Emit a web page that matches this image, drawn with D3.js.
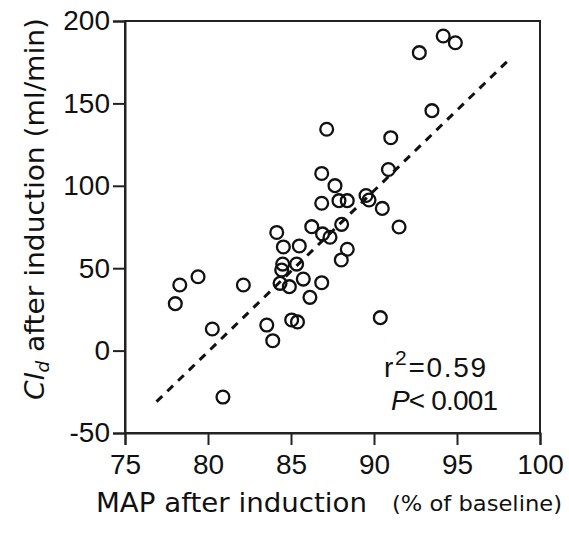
<!DOCTYPE html>
<html><head><meta charset="utf-8">
<script src="https://cdn.jsdelivr.net/npm/d3@7"></script>
<style>body{margin:0;background:#fff}</style>
</head><body>
<svg id="chart" width="569" height="536"></svg>
<script>
// Data (MAP % of baseline, Cl_d ml/min)
const mapValues = [94.17,94.90,92.73,93.49,87.15,91.01,86.85,90.87,87.65,86.85,87.89,88.39,89.52,89.70,90.50,91.51,88.05,86.25,84.14,86.90,87.35,84.54,85.50,88.39,88.03,84.50,85.34,84.44,84.34,84.90,85.74,86.85,86.14,83.54,85.04,85.39,83.90,90.38,82.13,79.40,78.30,78.03,80.26,80.90];
const clValues  = [190.9,186.8,180.8,145.6,134.3,129.2,107.5,109.9,100.1,89.4,91.0,91.0,94.1,91.4,86.3,75.0,76.6,75.2,71.7,70.8,68.8,62.9,63.5,61.5,55.0,52.5,52.5,48.9,40.8,38.8,43.4,41.2,32.3,15.5,18.6,17.4,6.0,20.0,39.8,44.8,39.8,28.5,13.1,-28.2];
const fitX = [76.9, 98.05];
const fitY = [-31.0, 175.7];
const xTicks = [75,80,85,90,95,100];
const yTicks = [-50,0,50,100,150,200];

const svg = d3.select('#chart');
const x = d3.scaleLinear().domain([75,100]).range([125,540]);
const y = d3.scaleLinear().domain([-50,200]).range([433,21]);
const tickFont = "'Liberation Sans', Arial, sans-serif";
const titleFont = "'DejaVu Sans', sans-serif";

// frame
svg.append('rect').attr('x',125).attr('y',21).attr('width',415).attr('height',412)
  .attr('fill','none').attr('stroke','#222').attr('stroke-width',2);

const xAxis = svg.append('g').attr('transform','translate(0,433)')
  .call(d3.axisBottom(x).tickValues(xTicks).tickSize(12).tickPadding(9).tickFormat(d3.format('d')));
const yAxis = svg.append('g').attr('transform','translate(125,0)')
  .call(d3.axisLeft(y).tickValues(yTicks).tickSize(12).tickPadding(3).tickFormat(d=> d<0 ? '-'+Math.abs(d) : d));
[xAxis,yAxis].forEach(g=>{
  g.select('.domain').attr('stroke','#222').attr('stroke-width',2);
  g.selectAll('.tick line').attr('stroke','#222').attr('stroke-width',2);
  g.selectAll('text').attr('font-family',tickFont).attr('font-size',28).attr('fill','#111');
});

// regression line
svg.append('line')
  .attr('x1',x(fitX[0])).attr('y1',y(fitY[0])).attr('x2',x(fitX[1])).attr('y2',y(fitY[1]))
  .attr('stroke','#111').attr('stroke-width',3).attr('stroke-dasharray','8,7');

// points
svg.append('g').selectAll('circle').data(mapValues.map((m,i)=>[m,clValues[i]])).join('circle')
  .attr('cx',d=>x(d[0])).attr('cy',d=>y(d[1])).attr('r',6.4)
  .attr('fill','none').attr('stroke','#111').attr('stroke-width',2.3);

// stats text
const t1 = svg.append('text').attr('x',384).attr('y',377).attr('font-family',tickFont).attr('font-size',28).attr('fill','#111')
  .attr('textLength',102).attr('lengthAdjust','spacing');
t1.append('tspan').text('r');
t1.append('tspan').attr('dy',-12).attr('font-size',21).text('2');
t1.append('tspan').attr('dy',12).text('=0.59');
const t2 = svg.append('text').attr('x',391).attr('y',410).attr('font-family',tickFont).attr('font-size',28).attr('fill','#111')
  .attr('textLength',107).attr('lengthAdjust','spacing');
t2.append('tspan').attr('font-style','italic').text('P');
t2.append('tspan').text('< 0.001');

// x title
svg.append('text').attr('x',96).attr('y',512).attr('font-family',titleFont).attr('font-size',27)
  .attr('fill','#111').attr('textLength',271).attr('lengthAdjust','spacingAndGlyphs').text('MAP after induction');
svg.append('text').attr('x',392).attr('y',511).attr('font-family',titleFont).attr('font-size',21)
  .attr('fill','#111').attr('textLength',170).attr('lengthAdjust','spacingAndGlyphs').text('(% of baseline)');

// y title
const yt = svg.append('text').attr('transform','translate(44,400) rotate(-90)')
  .attr('font-family',titleFont).attr('font-size',26).attr('fill','#111')
  .attr('textLength',382).attr('lengthAdjust','spacingAndGlyphs');
yt.append('tspan').attr('font-style','italic').text('Cl');
yt.append('tspan').attr('dy',5).attr('font-size',17).attr('font-style','italic').text('d');
yt.append('tspan').attr('dy',-5).text(' after induction (ml/min)');
</script>
</body></html>
